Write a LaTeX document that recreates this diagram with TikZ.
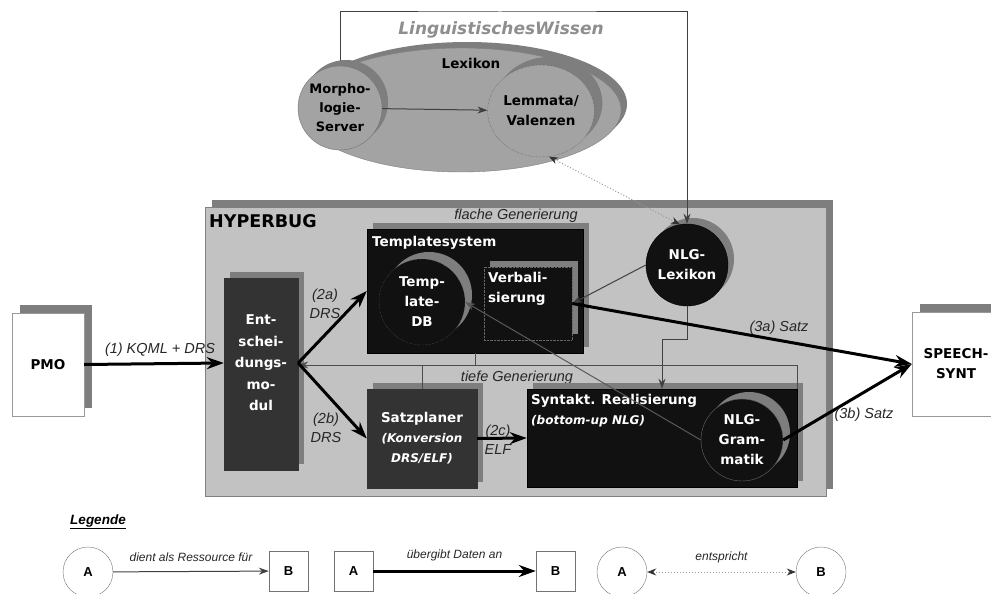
\documentclass[tikz,border=0pt]{standalone}
\usepackage{fontspec}
\setmainfont{DejaVu Sans}
\newfontfamily\lblfont{Liberation Sans}
\usetikzlibrary{arrows.meta,shapes.geometric,shadows,positioning}

\definecolor{hbgray}{HTML}{C2C2C2}
\definecolor{shadowgray}{HTML}{7E7E7E}
\definecolor{lexgray}{HTML}{A3A3A3}
\definecolor{darkbox}{HTML}{333333}
\definecolor{blackbox}{HTML}{111111}
\definecolor{wissengray}{HTML}{8E8E8E}

\newcommand\kursivklein{\itshape\fontsize{12}{20}\selectfont}

\tikzset{
  schatten/.style={drop shadow={shadow xshift=#1,shadow yshift=#1,fill=shadowgray,opacity=1}},
  schatten/.default=6pt,
  knoten/.style={font=\bfseries\fontsize{13.5}{20}\selectfont, align=center, inner sep=0pt},
  schwarz/.style={knoten, rectangle, fill=blackbox, draw=black, text=white},
  dunkel/.style={knoten, rectangle, fill=darkbox, draw=black!80, text=white},
  weiss/.style={knoten, rectangle, fill=white, draw=black!40},
  kreis/.style={knoten, circle},
  beschr/.style={font=\lblfont\itshape\fontsize{14.5}{19}\selectfont, text=black!85, align=center, inner sep=0pt},
  legtext/.style={font=\lblfont\itshape\fontsize{12}{14}\selectfont, text=black!85, inner sep=0pt},
  legbox/.style={rectangle, draw=black!55, fill=white, minimum width=39, minimum height=40,
    font=\lblfont\bfseries\fontsize{13}{15}\selectfont},
  legkreis/.style={circle, draw=black!55, fill=white, minimum size=50, inner sep=0pt,
    font=\lblfont\bfseries\fontsize{13}{15}\selectfont},
  res/.style={draw=black!75, line width=1pt, -{Stealth[length=10pt,width=7pt]}},
  linie/.style={draw=black!70, line width=0.8pt},
  daten/.style={draw=black, line width=3pt, -{Stealth[length=17pt,width=12pt]}},
  entspr/.style={draw=black!40, dotted, line width=1pt,
    {Stealth[length=9pt,width=7pt,color=black!80]}-{Stealth[length=9pt,width=7pt,color=black!80]}},
}

\begin{document}
\begin{tikzpicture}[x=1pt,y=-1pt]
\useasboundingbox (0,0) rectangle (991,594);

% HYPERBUG
\node[rectangle, fill=hbgray, draw=black!50, schatten=7pt, minimum width=621, minimum height=289] (hyperbug) at (515.5,351.5) {};
\node[anchor=west, inner sep=0pt, font=\bfseries\fontsize{17.5}{20}\selectfont] (hbtitle) at (209,221) {HYPERBUG};
\node[beschr] (flach) at (516,216) {flache Generierung};
\node[beschr] (tief) at (517,378) {tiefe Generierung};

% flache Generierung
\node[schwarz, schatten, minimum width=216, minimum height=124] (tmplsys) at (475,291) {};
\node[knoten, text=white, anchor=west] (tmpltitle) at (372,243) {Templatesystem};
\node[kreis, fill=blackbox, draw=black!60, densely dotted, schatten=7pt, minimum size=86, text=white] (tmpldb) at (422,302) {Temp-\\late-\\DB};
\node[schwarz, draw=black!60, densely dotted, schatten, minimum width=88, minimum height=73] (verb) at (528,303.5) {};
\node[knoten, text=white, align=left, anchor=north west] (verbtext) at (488,272) {Verbali-\\sierung};
\node[kreis, fill=blackbox, draw=black, schatten, minimum size=82, text=white] (nlglex) at (687,265) {NLG-\\Lexikon};

% Entscheidung und tiefe Generierung
\node[dunkel, schatten, minimum width=74, minimum height=192] (entsch) at (261,374) {};
\node[knoten, text=white, font=\bfseries\fontsize{13.5}{21.5}\selectfont] (entschtext) at (261,363) {Ent-\\schei-\\dungs-\\mo-\\dul};
\node[dunkel, schatten, minimum width=110, minimum height=99] (satz) at (422,438.5) {Satzplaner\\\kursivklein(Konversion\\\kursivklein DRS/ELF)};
\node[schwarz, schatten, minimum width=270, minimum height=98] (syntakt) at (662,438) {};
\node[knoten, text=white, align=left, anchor=north west] (synttitle) at (531,394) {Syntakt. Realisierung\\\kursivklein(bottom-up NLG)};
\node[kreis, fill=blackbox, draw=black!60, schatten=7pt, minimum size=82, text=white] (nlggram) at (742,440) {NLG-\\Gram-\\matik};

% aussen
\node[weiss, schatten=8pt, minimum width=72, minimum height=103] (pmo) at (48,364.5) {PMO};
\node[weiss, schatten=8pt, minimum width=88, minimum height=104] (speech) at (956,364) {SPEECH-\\SYNT};

% Linguistisches Wissen
\coordinate (morphpos) at (340,108);
\coordinate (wissen) at (500,12);
\draw[res] (morphpos) |- (wissen) -| (nlglex);
\node[inner sep=0pt, text=wissengray, font=\bfseries\itshape\fontsize{17}{20}\selectfont] (wissentitle) at (501,30) {LinguistischesWissen};
\node[ellipse, fill=lexgray, draw=black!50, schatten, minimum width=320, minimum height=124] (lexikon) at (461,110) {};
\node[knoten] (lextitle) at (471,63) {Lexikon};
\node[kreis, fill=lexgray, draw=black!55, schatten, minimum size=84, font=\bfseries\fontsize{13}{19}\selectfont] (morph) at (morphpos) {Morpho-\\logie-\\Server};
\node[knoten, ellipse, fill=lexgray, draw=black!70, densely dotted, schatten=8pt, minimum width=103, minimum height=92] (lemma) at (541,111) {Lemmata/\\Valenzen};

% Verbindungen
\coordinate (bus) at (0,365);
\draw[res] (morph) -- (lemma);
\draw[entspr] (lemma.280) -- (nlglex.100);
\draw[res] (nlglex.west) -- (verb.east);
\draw[res] (nlglex.south) -- ++(0,33) -| (syntakt.north);
\draw[linie] (tmplsys.south) -- (tmplsys.south |- bus);
\draw[linie] (satz.north) -- (satz.north |- bus);
\draw[res, draw=black!70, line width=0.8pt] (syntakt.north east) |- (entsch.east |- bus);
\draw[res, draw=black!65] (nlggram.west) -- (tmpldb.east);

\draw[daten] (pmo.east) -- (entsch.west |- entschtext);
\draw[daten] (entsch.east |- entschtext) -- (tmplsys.west);
\draw[daten] (entsch.east |- entschtext) -- (satz.west);
\draw[daten] (satz.east) -- (syntakt.west);
\draw[daten] (verb.east) -- (speech.west);
\draw[daten] (nlggram.east) -- (speech.west);

\node[beschr] (l1) at (160,350) {(1) KQML + DRS};
\node[beschr] (l2a) at (325,304) {(2a)\\DRS};
\node[beschr] (l2b) at (326,428) {(2b)\\DRS};
\node[beschr] (l2c) at (498,440) {(2c)\\ELF};
\node[beschr] (l3a) at (779,328) {(3a) Satz};
\node[beschr] (l3b) at (864,415) {(3b) Satz};

% Legende
\node[inner sep=0pt, font=\lblfont\bfseries\itshape\fontsize{13.5}{16}\selectfont] (legende) at (98,522) {\underline{Legende}};
\node[legkreis] (la1) at (88,572) {A};
\node[legbox] (lb1) at (288.5,571) {B};
\node[legbox] (la2) at (353.5,571) {A};
\node[legbox] (lb2) at (555.5,571) {B};
\node[legkreis] (la3) at (622,572) {A};
\node[legkreis] (lb3) at (821,572) {B};
\draw[res] (la1) -- (lb1) node[midway, above=9pt, legtext] (ll1) {dient als Ressource für};
\draw[daten] (la2) -- (lb2) node[midway, above=9pt, legtext] (ll2) {übergibt Daten an};
\draw[entspr] (la3) -- (lb3) node[midway, above=9pt, legtext] (ll3) {entspricht};
\end{tikzpicture}
\end{document}
